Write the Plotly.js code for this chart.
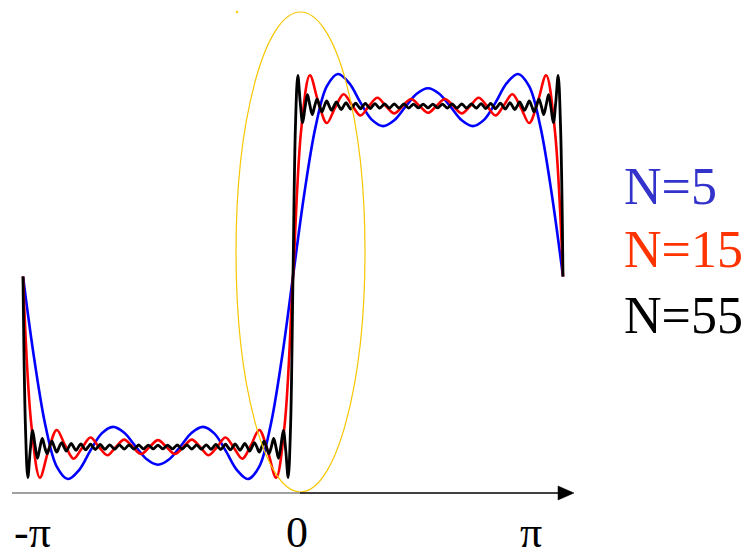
<!DOCTYPE html>
<html>
<head>
<meta charset="utf-8">
<script src="https://cdn.plot.ly/plotly-3.0.1.min.js"></script>
<style>html,body{margin:0;padding:0;background:#fff;}#chart{width:749px;height:560px;}</style>
</head>
<body>
<div id="chart"></div>
<script>
// Partial Fourier sums of a square wave.
// Each series is sampled uniformly from -pi to pi (x0 = -pi, step dx).
var seriesNames = ["N=5", "N=15", "N=55"];
var seriesColors = ["#0000ff", "#ff0000", "#000000"];
var labelColors = ["#3333cc", "#ff3300", "#000000"];
var tickLabels = ["-\u03c0", "0", "\u03c0"];

// N=5, step pi/24
var blueNeg = [0, -0.484, -0.876, -1.115, -1.188, -1.134, -1.020, -0.920, -0.882, -0.916, -0.996, -1.072, -1.104,
  -1.072, -0.996, -0.916, -0.882, -0.920, -1.020, -1.134, -1.188, -1.115, -0.876, -0.484, 0];
var bluePos = [0.484, 0.876, 1.115, 1.188, 1.134, 1.020, 0.920, 0.882, 0.916, 0.996, 1.072, 1.104,
  1.072, 0.996, 0.916, 0.882, 0.920, 1.020, 1.134, 1.188, 1.115, 0.876, 0.484, 0];

// N=15, step pi/32
var redNeg = [0, -0.875, -1.18, -1.023, -0.900, -0.991, -1.069, -1.005, -0.944, -1.0, -1.048, -1.0, -0.957, -1.0, -1.041, -1.0,
  -0.960, -1.0, -1.041, -1.0, -0.957, -1.0, -1.048, -1.0, -0.944, -1.005, -1.069, -0.991, -0.900, -1.023, -1.18, -0.875, 0];
var redPos = [0.875, 1.18, 1.023, 0.900, 0.991, 1.069, 1.005, 0.944, 1.0, 1.048, 1.0, 0.957, 1.0, 1.041, 1.0, 0.960,
  1.0, 1.041, 1.0, 0.957, 1.0, 1.048, 1.0, 0.944, 1.005, 1.069, 0.991, 0.900, 1.023, 1.18, 0.875, 0];

// N=55, step pi/112
var blackNeg = [0,
  -0.873, -1.179, -1.021, -0.902, -0.991, -1.066, -1.005, -0.950, -1, -1.040,
  -1, -0.966, -1, -1.030, -1, -0.974, -1, -1.024, -1, -0.979,
  -1, -1.020, -1, -0.982, -1, -1.017, -1, -0.984, -1, -1.015,
  -1, -0.985, -1, -1.014, -1, -0.987, -1, -1.013, -1, -0.987,
  -1, -1.012, -1, -0.988, -1, -1.012, -1, -0.988, -1, -1.011,
  -1, -0.989, -1, -1.011, -1, -0.989, -1, -1.011, -1, -0.989,
  -1, -1.011, -1, -0.988, -1, -1.012, -1, -0.988, -1, -1.012,
  -1, -0.987, -1, -1.013, -1, -0.987, -1, -1.014, -1, -0.985,
  -1, -1.015, -1, -0.984, -1, -1.017, -1, -0.982, -1, -1.020,
  -1, -0.979, -1, -1.024, -1, -0.974, -1, -1.030, -1, -0.966,
  -1, -1.040, -1, -0.950, -1.005, -1.066, -0.991, -0.902, -1.021, -1.179,
  -0.873, 0];
var blackPos = [
  0.873, 1.179, 1.021, 0.902, 0.991, 1.066, 1.005, 0.950, 1, 1.040,
  1, 0.966, 1, 1.030, 1, 0.974, 1, 1.024, 1, 0.979,
  1, 1.020, 1, 0.982, 1, 1.017, 1, 0.984, 1, 1.015,
  1, 0.985, 1, 1.014, 1, 0.987, 1, 1.013, 1, 0.987,
  1, 1.012, 1, 0.988, 1, 1.012, 1, 0.988, 1, 1.011,
  1, 0.989, 1, 1.011, 1, 0.989, 1, 1.011, 1, 0.989,
  1, 1.011, 1, 0.988, 1, 1.012, 1, 0.988, 1, 1.012,
  1, 0.987, 1, 1.013, 1, 0.987, 1, 1.014, 1, 0.985,
  1, 1.015, 1, 0.984, 1, 1.017, 1, 0.982, 1, 1.020,
  1, 0.979, 1, 1.024, 1, 0.974, 1, 1.030, 1, 0.966,
  1, 1.040, 1, 0.950, 1.005, 1.066, 0.991, 0.902, 1.021, 1.179,
  0.873, 0];

var PI = Math.PI;
var seriesY = [blueNeg.concat(bluePos), redNeg.concat(redPos), blackNeg.concat(blackPos)];
var seriesStep = [PI / 24, PI / 32, PI / 112];
var seriesWidth = [2.6, 2.6, 2.8];

var traces = seriesY.map(function (ys, i) {
  return {
    type: "scatter", mode: "lines", name: seriesNames[i],
    y: ys, x0: -PI, dx: seriesStep[i],
    line: { color: seriesColors[i], width: seriesWidth[i], shape: "spline", smoothing: 1, simplify: false },
    hoverinfo: "skip"
  };
});

var W = 749, H = 560;
function px(x) { return x / W; }
function py(y) { return 1 - y / H; }
var serif = "Liberation Serif, Times New Roman, serif";

var annotations = [];
var labelY = [187, 250, 315];
seriesNames.forEach(function (n, i) {
  annotations.push({
    xref: "paper", yref: "paper", x: px(622), y: py(labelY[i]), xanchor: "left", yanchor: "middle",
    text: n, showarrow: false, font: { family: serif, size: 52, color: labelColors[i] }
  });
});
var tickX = [32, 297, 531];
tickLabels.forEach(function (t, i) {
  annotations.push({
    xref: "paper", yref: "paper", x: px(tickX[i]), y: py(532), xanchor: "center", yanchor: "middle",
    text: t, showarrow: false, font: { family: serif, size: 44, color: "#000" }
  });
});

var shapes = [
  { type: "circle", xref: "paper", yref: "paper", x0: px(236), x1: px(365), y0: py(492), y1: py(12),
    line: { color: "#f7c600", width: 1.2 }, fillcolor: "rgba(0,0,0,0)" },
  { type: "circle", xref: "paper", yref: "paper", x0: px(236), x1: px(238), y0: py(13), y1: py(11),
    line: { color: "#f7c600", width: 0.5 }, fillcolor: "#f7c600" },
  { type: "line", xref: "paper", yref: "paper", x0: px(12), x1: px(300), y0: py(493), y1: py(493),
    line: { color: "#808080", width: 1.4 } },
  { type: "line", xref: "paper", yref: "paper", x0: px(300), x1: px(562), y0: py(493), y1: py(493),
    line: { color: "#000000", width: 1.4 } },
  { type: "path", xref: "paper", yref: "paper",
    path: "M" + px(558) + "," + py(486) + " L" + px(574) + "," + py(493) + " L" + px(558) + "," + py(500) + " Z",
    line: { color: "#000", width: 0.5 }, fillcolor: "#000" }
];

var layout = {
  width: W, height: H,
  margin: { l: 0, r: 0, t: 0, b: 0 },
  paper_bgcolor: "#fff", plot_bgcolor: "#fff",
  showlegend: false,
  xaxis: { range: [-3.4092, 5.3059], visible: false, fixedrange: true },
  yaxis: { range: [-1.6628, 1.6217], visible: false, fixedrange: true },
  annotations: annotations,
  shapes: shapes
};

Plotly.newPlot("chart", traces, layout, { staticPlot: true, displayModeBar: false });
</script>
</body>
</html>
